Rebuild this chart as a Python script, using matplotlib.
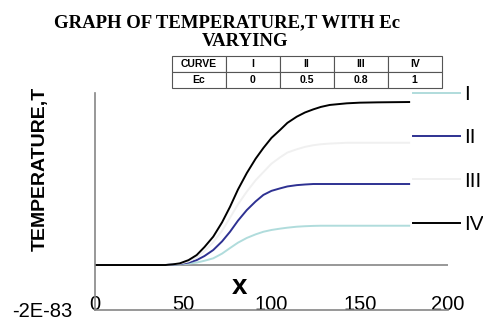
import matplotlib
matplotlib.use("Agg")
import matplotlib.pyplot as plt

# x positions
x = [0, 20, 40, 44, 48, 53, 57.6, 62, 67, 72, 76.5, 81, 86, 91, 95.4, 100, 104.8, 109,
     114.3, 119, 123.7, 128, 133, 142.6, 150, 160, 178]

# curve values (arbitrary units, baseline 0)
curve_I = [0, 0, 0, 0.002, 0.004, 0.009, 0.015, 0.026, 0.041, 0.070, 0.104, 0.137, 0.166,
           0.188, 0.204, 0.215, 0.223, 0.229, 0.235, 0.238, 0.240, 0.241, 0.241, 0.241,
           0.241, 0.241, 0.241]
curve_II = [0, 0, 0, 0.003, 0.006, 0.015, 0.030, 0.055, 0.092, 0.145, 0.204, 0.272, 0.337,
            0.390, 0.430, 0.455, 0.470, 0.482, 0.490, 0.494, 0.497, 0.497, 0.497, 0.497,
            0.497, 0.497, 0.497]
curve_III = [0, 0, 0, 0.004, 0.008, 0.022, 0.045, 0.085, 0.140, 0.210, 0.290, 0.372, 0.450,
             0.520, 0.570, 0.622, 0.660, 0.690, 0.710, 0.725, 0.735, 0.741, 0.745, 0.750,
             0.750, 0.750, 0.750]
curve_IV = [0, 0, 0, 0.004, 0.010, 0.030, 0.061, 0.110, 0.174, 0.262, 0.357, 0.463, 0.564,
            0.652, 0.718, 0.780, 0.828, 0.872, 0.910, 0.936, 0.955, 0.970, 0.982, 0.992,
            0.996, 0.998, 1.0]

curves = [curve_I, curve_II, curve_III, curve_IV]
names = ["I", "II", "III", "IV"]
colors = ["#b0dcdc", "#2e3192", "#f0f0f0", "#000000"]

table_rows = [["CURVE", "I", "II", "III", "IV"],
              ["Ec", "0", "0.5", "0.8", "1"]]

xticks = [0, 50, 100, 150, 200]
ymin = -0.276
ymin_label = "-2E-83"

fig = plt.figure(figsize=(4.83, 3.22), dpi=100)
ax = fig.add_axes([0.1967, 0.0373, 0.7308, 0.6737])

for vals, name, col in zip(curves, names, colors):
    ax.plot(x, vals, color=col, lw=1.4, label=name)

ax.axhline(0, color="#868686", lw=1.2, zorder=0)
ax.set_xlim(0, 200)
ax.set_ylim(ymin, 1.055)
ax.set_xticks(xticks)
ax.set_xticklabels([str(t) for t in xticks], fontsize=14.5, family="Liberation Sans")
ax.set_yticks([ymin])
ax.set_yticklabels([ymin_label], fontsize=14.5, family="Liberation Sans")
ax.tick_params(axis="x", length=0, pad=-10.5)
ax.tick_params(axis="y", length=0, pad=16)
for s in ["top", "right"]:
    ax.spines[s].set_visible(False)
for s in ["left", "bottom"]:
    ax.spines[s].set_color("#868686")
    ax.spines[s].set_linewidth(1.2)

fig.text(240 / 483, 1 - 287 / 322, "x", fontsize=20, fontweight="bold",
         family="Liberation Sans", ha="center", va="center")
fig.text(0.083, 0.475, "TEMPERATURE,T", rotation=90, fontsize=14, fontweight="bold",
         family="Liberation Sans", ha="center", va="center")

fig.text(0.47, 0.929, "GRAPH OF TEMPERATURE,T WITH Ec", fontsize=13.5, fontweight="bold",
         family="Liberation Serif", ha="center", va="center")
fig.text(0.507, 0.870, "VARYING", fontsize=13.5, fontweight="bold",
         family="Liberation Serif", ha="center", va="center")

leg = ax.legend(loc="upper left", bbox_to_anchor=(0.847, 1.124), frameon=False,
                handlelength=2.25, handletextpad=0.2, labelspacing=1.17,
                prop={"family": "Liberation Sans", "size": 15})

tab = ax.table(cellText=table_rows, cellLoc="center",
               bbox=[0.217, 1.025, 0.765, 0.145])
tab.auto_set_font_size(False)
for (r, c), cell in tab.get_celld().items():
    cell.set_fontsize(7.5)
    cell.set_text_props(fontweight="bold", family="Liberation Sans")
    cell.set_edgecolor("#555555")
    cell.set_linewidth(0.8)

fig.savefig("out.png", dpi=100)
